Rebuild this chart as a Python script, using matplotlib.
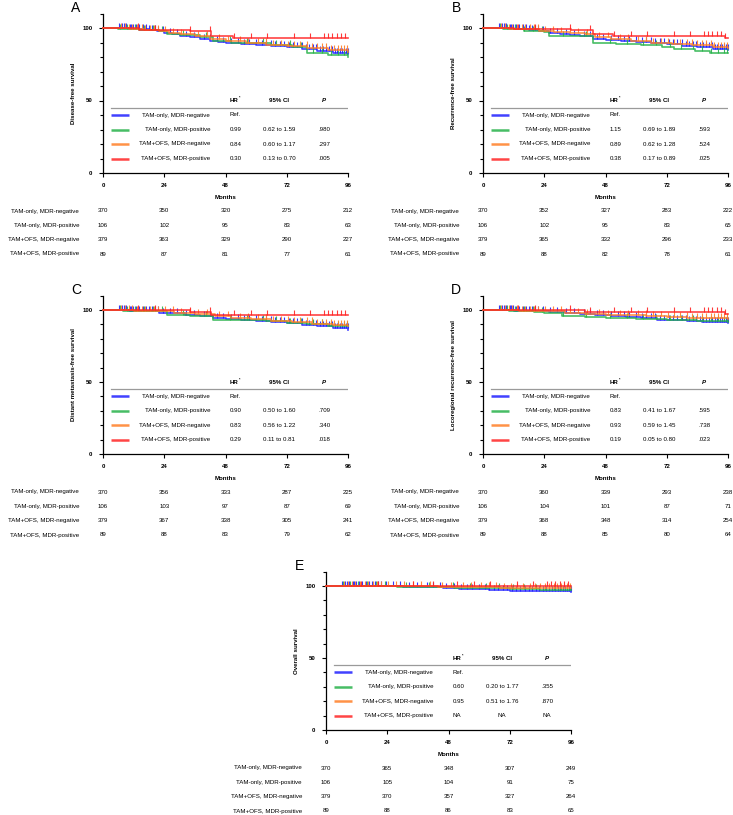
import numpy as np
import matplotlib
matplotlib.use("Agg")
import matplotlib.pyplot as plt

plt.rcParams['font.family'] = ['Liberation Sans', 'DejaVu Sans']

DPI = 100
W, H = 733, 815

# ---------------- data ----------------
groups = ["TAM-only, MDR-negative", "TAM-only, MDR-positive",
          "TAM+OFS, MDR-negative", "TAM+OFS, MDR-positive"]
colors = ["#1f1fff", "#27b24a", "#ff7f27", "#ff2424"]
month_ticks = [0, 24, 48, 72, 96]

# censor (follow-up) times per group
cens_blue = [6.2, 7.5, 8.3, 9.1, 10.4, 11.1, 11.8, 13.0, 14.3, 15.6, 16.9, 18.0, 19.2, 20.5,
             21.7, 23.4, 26.1, 29.0, 32.5, 35.8, 39.7, 41.9, 44.6, 47.2, 50.3, 52.8, 55.1,
             57.4, 59.9, 62.2, 64.0, 65.8, 67.5, 69.3, 71.0, 72.8, 74.5, 76.1, 77.9, 79.4,
             80.8, 82.3, 83.6, 84.9, 86.2, 87.4, 88.6, 89.7, 90.8, 91.8, 92.7, 93.6, 94.4,
             95.2, 95.9]
cens_green = [6.8, 9.5, 12.7, 16.2, 19.5, 23.0, 31.5, 40.2, 49.8, 56.3, 62.5, 67.9, 73.1,
              77.6, 82.4, 86.0, 89.4, 92.0, 94.3, 95.8]
cens_orange = [7.0, 8.6, 10.1, 11.5, 13.4, 15.2, 16.6, 18.3, 19.9, 21.5, 24.2, 27.3, 30.6,
               33.9, 37.4, 40.8, 45.3, 49.1, 53.6, 57.0, 60.8, 63.9, 66.7, 69.6, 72.4, 75.0,
               77.3, 79.8, 81.9, 83.8, 85.7, 87.5, 89.2, 90.7, 92.1, 93.4, 94.6, 95.7]
cens_red = [13.8, 20.4, 34.0, 42.0, 51.5, 58.0, 64.2, 75.0, 81.0, 86.6, 88.3, 89.9, 91.8,
            93.2, 95.0]

# Panel A: Disease-free survival
A_blue_t = [0, 10, 14, 18, 21, 24, 27, 30, 34, 38, 42, 45, 48, 54, 60, 66, 72, 78, 84, 90, 96]
A_blue_s = [100, 99.6, 99.1, 98.4, 97.6, 96.6, 95.6, 94.6, 93.6, 92.6, 91.3, 90.6, 89.8, 89.0,
            88.2, 87.4, 86.6, 85.4, 84.2, 83.0, 81.8]
A_green_t = [0, 6, 14, 22, 25, 30, 38, 43, 50, 58, 66, 74, 80, 88, 96]
A_green_s = [100, 99.0, 98.5, 97.6, 95.6, 95.0, 94.0, 91.0, 90.0, 89.4, 88.6, 86.8, 82.5, 81.2, 80.2]
A_orange_t = [0, 10, 16, 22, 26, 30, 36, 42, 48, 56, 64, 72, 80, 88, 96]
A_orange_s = [100, 99.5, 98.9, 97.8, 96.8, 96.0, 94.8, 92.6, 90.8, 89.5, 88.4, 87.4, 86.2, 84.6, 83.5]
A_red_t = [0, 14, 34, 42.5, 51, 96]
A_red_s = [100, 98.9, 97.8, 94.4, 93.3, 93.3]
A_risk = [[370, 350, 320, 275, 212], [106, 102, 95, 83, 63],
          [379, 363, 329, 290, 227], [89, 87, 81, 77, 61]]
A_hr = ["Ref.", "0.99", "0.84", "0.30"]
A_ci = ["", "0.62 to 1.59", "0.60 to 1.17", "0.13 to 0.70"]
A_p = ["", ".980", ".297", ".005"]

# Panel B: Recurrence-free survival
B_blue_t = [0, 10, 14, 18, 22, 26, 30, 34, 38, 43, 48, 54, 60, 66, 72, 78, 84, 90, 96]
B_blue_s = [100, 99.6, 99.2, 98.6, 97.8, 96.8, 96.0, 95.2, 94.5, 92.6, 91.8, 91.0, 90.3, 89.6,
            88.8, 87.8, 86.6, 85.6, 84.6]
B_green_t = [0, 8, 16, 24, 26, 43, 52, 62, 70, 75, 83, 89, 96]
B_green_s = [100, 99.0, 98.2, 97.4, 94.6, 90.0, 89.3, 88.3, 87.2, 85.4, 83.8, 82.6, 82.6]
B_orange_t = [0, 10, 16, 22, 28, 34, 40, 44, 50, 58, 66, 74, 82, 90, 96]
B_orange_s = [100, 99.5, 99.0, 98.2, 97.4, 96.8, 96.0, 93.8, 92.4, 91.2, 90.0, 89.0, 88.0, 87.0, 86.2]
B_red_t = [0, 12, 34.5, 43, 51, 95, 96]
B_red_s = [100, 99.2, 98.4, 95.6, 94.2, 93.4, 93.4]
B_risk = [[370, 352, 327, 283, 222], [106, 102, 95, 83, 65],
          [379, 365, 332, 296, 233], [89, 88, 82, 78, 61]]
B_hr = ["Ref.", "1.15", "0.89", "0.38"]
B_ci = ["", "0.69 to 1.89", "0.62 to 1.28", "0.17 to 0.89"]
B_p = ["", ".593", ".524", ".025"]

# Panel C: Distant metastasis-free survival
C_blue_t = [0, 10, 16, 22, 26, 32, 38, 43, 48, 54, 60, 66, 72, 78, 84, 90, 96]
C_blue_s = [100, 99.6, 99.0, 98.2, 97.6, 96.8, 96.0, 94.4, 93.8, 93.0, 92.2, 91.6, 90.8, 89.8,
            88.8, 87.6, 86.2]
C_green_t = [0, 8, 16, 25, 34, 43, 56, 64, 72, 80, 88, 96]
C_green_s = [100, 99.3, 99.0, 96.6, 96.0, 92.9, 92.9, 92.2, 91.0, 90.0, 89.2, 88.6]
C_orange_t = [0, 12, 20, 28, 36, 44, 50, 58, 66, 74, 82, 90, 96]
C_orange_s = [100, 99.6, 99.0, 98.2, 97.2, 95.6, 94.6, 93.6, 92.6, 91.6, 90.6, 89.6, 88.8]
C_red_t = [0, 34, 42.5, 96]
C_red_s = [100, 98.9, 96.3, 96.3]
C_risk = [[370, 356, 333, 287, 225], [106, 103, 97, 87, 69],
          [379, 367, 338, 305, 241], [89, 88, 83, 79, 62]]
C_hr = ["Ref.", "0.90", "0.83", "0.29"]
C_ci = ["", "0.50 to 1.60", "0.56 to 1.22", "0.11 to 0.81"]
C_p = ["", ".709", ".340", ".018"]

# Panel D: Locoregional recurrence-free survival
D_blue_t = [0, 12, 20, 26, 32, 38, 44, 50, 56, 62, 68, 74, 80, 86, 92, 96]
D_blue_s = [100, 99.6, 99.0, 98.4, 97.8, 97.2, 96.6, 95.8, 95.0, 94.2, 93.4, 92.8, 92.2, 91.8,
            91.5, 91.2]
D_green_t = [0, 10, 20, 24, 31, 40, 48, 60, 72, 84, 96]
D_green_s = [100, 99.4, 98.8, 98.2, 95.9, 95.2, 94.6, 93.8, 93.1, 92.4, 92.0]
D_orange_t = [0, 14, 24, 32, 40, 48, 56, 64, 72, 80, 88, 96]
D_orange_s = [100, 99.6, 99.0, 98.2, 97.4, 96.8, 96.2, 95.6, 95.0, 94.6, 94.3, 94.0]
D_red_t = [0, 40, 95, 96]
D_red_s = [100, 98.9, 97.4, 97.4]
D_risk = [[370, 360, 339, 293, 238], [106, 104, 101, 87, 71],
          [379, 368, 348, 314, 254], [89, 88, 85, 80, 64]]
D_hr = ["Ref.", "0.83", "0.93", "0.19"]
D_ci = ["", "0.41 to 1.67", "0.59 to 1.45", "0.05 to 0.80"]
D_p = ["", ".595", ".738", ".023"]

# Panel E: Overall survival
E_blue_t = [0, 20, 30, 40, 46, 52, 58, 64, 72, 80, 88, 96]
E_blue_s = [100, 99.8, 99.5, 99.0, 98.5, 98.0, 97.6, 97.0, 96.6, 96.4, 96.2, 96.0]
E_green_t = [0, 28, 50, 60, 72, 84, 96]
E_green_s = [100, 99.1, 98.9, 98.3, 97.8, 97.4, 97.2]
E_orange_t = [0, 30, 44, 56, 68, 80, 96]
E_orange_s = [100, 99.7, 99.4, 99.0, 98.7, 98.5, 98.3]
E_red_t = [0, 96]
E_red_s = [100, 100]
E_risk = [[370, 365, 348, 307, 249], [106, 105, 104, 91, 75],
          [379, 370, 357, 327, 264], [89, 88, 86, 83, 65]]
E_hr = ["Ref.", "0.60", "0.95", "NA"]
E_ci = ["", "0.20 to 1.77", "0.51 to 1.76", "NA"]
E_p = ["", ".355", ".870", "NA"]

# ---------------- drawing ----------------
FS = 4.4
PT = 72.0 / DPI  # points per pixel

fig = plt.figure(figsize=(W / DPI, H / DPI), dpi=DPI)


def make_ax(x0, x1, ytop, ybot):
    return fig.add_axes([x0 / W, 1 - ybot / H, (x1 - x0) / W, (ybot - ytop) / H])


def step_value(t, s, x):
    idx = np.searchsorted(np.asarray(t), x, side='right') - 1
    return np.asarray(s)[np.clip(idx, 0, len(s) - 1)]


def panel(ax, letter, ylabel, curves, risk, hr, ci, pv):
    ax.set_xlim(0, 96)
    ax.set_ylim(0, 110)
    for sp in ['top', 'right']:
        ax.spines[sp].set_visible(False)
    for sp in ['left', 'bottom']:
        ax.spines[sp].set_linewidth(0.9)
    ax.set_xticks(month_ticks)
    ax.set_xticklabels([str(m) for m in month_ticks], fontweight='bold', fontsize=FS)
    ax.set_yticks([0, 50, 100])
    ax.set_yticklabels(["0", "50", "100"], fontweight='bold', fontsize=FS)
    ax.set_yticks([10, 20, 30, 40, 60, 70, 80, 90, 110], minor=True)
    ax.tick_params(axis='both', which='major', length=4 * PT, width=0.8, pad=4.6, direction='out')
    ax.tick_params(axis='y', which='minor', length=3 * PT, width=0.8, direction='out')

    order = [1, 2, 0, 3]
    cens = [cens_blue, cens_green, cens_orange, cens_red]
    for i in order:
        t, s = curves[i]
        ax.step(t, s, where='post', color=colors[i], lw=1.2, alpha=0.85, zorder=3 + i * 0.1,
                clip_on=False)
        ct = np.array(cens[i])
        cy = step_value(t, s, ct)
        ax.plot(ct, cy, ls='none', marker=2, ms=3.6, mew=0.8, color=colors[i], alpha=0.9,
                zorder=3 + i * 0.1, clip_on=False)

    # in-plot table
    ax.text(49.5, 50, "HR", fontsize=FS, fontweight='bold', ha='left', va='center')
    ax.text(53.2, 51.8, "*", fontsize=FS * 0.6, fontweight='bold', ha='left', va='center')
    ax.text(69.0, 50, "95% CI", fontsize=FS, fontweight='bold', ha='center', va='center')
    ax.text(86.6, 50, "P", fontsize=FS, fontweight='bold', fontstyle='italic', ha='center', va='center')
    ax.plot([3.0, 96], [44.8, 44.8], color='#9a9a9a', lw=0.9)
    rows_y = [40, 30, 20, 10]
    for i in range(4):
        y = rows_y[i]
        ax.plot([3.0, 10.0], [y, y], color=colors[i], lw=1.8, alpha=0.85, solid_capstyle='butt')
        ax.text(42.0, y, groups[i], fontsize=FS, ha='right', va='center')
        ax.text(49.5, y, hr[i], fontsize=FS, ha='left', va='center')
        ax.text(69.0, y, ci[i], fontsize=FS, ha='center', va='center')
        ax.text(86.6, y, pv[i], fontsize=FS, ha='center', va='center')

    # labels
    ax.annotate(letter, xy=(0, 1), xycoords='axes fraction', xytext=(-27 * PT, 6 * PT),
                textcoords='offset points', fontsize=10, ha='center', va='center')
    ax.annotate(ylabel, xy=(0, 0.5), xycoords='axes fraction', xytext=(-29.5 * PT, 0),
                textcoords='offset points', fontsize=FS, fontweight='bold', rotation=90,
                ha='center', va='center')
    ax.annotate("Months", xy=(0.5, 0), xycoords='axes fraction', xytext=(0, -24.5 * PT),
                textcoords='offset points', fontsize=FS, fontweight='bold', ha='center', va='center')
    # risk table
    offs = [38, 52.5, 66.5, 81]
    for r in range(4):
        ax.annotate(groups[r], xy=(0, 0), xycoords='axes fraction', xytext=(-24 * PT, -offs[r] * PT),
                    textcoords='offset points', fontsize=FS, ha='right', va='center',
                    annotation_clip=False)
        for j, m in enumerate(month_ticks):
            ax.annotate(str(risk[r][j]), xy=(m, 0), xycoords=('data', 'axes fraction'),
                        xytext=(0, -offs[r] * PT), textcoords='offset points', fontsize=FS,
                        ha='center', va='center', annotation_clip=False)


axA = make_ax(103, 348, 13.5, 173)
axB = make_ax(483, 728, 13.5, 173)
axC = make_ax(103, 348, 295.6, 454)
axD = make_ax(483, 728, 295.6, 454)
axE = make_ax(326, 571, 571.6, 730)

panel(axA, "A", "Disease-free survival",
      [(A_blue_t, A_blue_s), (A_green_t, A_green_s), (A_orange_t, A_orange_s), (A_red_t, A_red_s)],
      A_risk, A_hr, A_ci, A_p)
panel(axB, "B", "Recurrence-free survival",
      [(B_blue_t, B_blue_s), (B_green_t, B_green_s), (B_orange_t, B_orange_s), (B_red_t, B_red_s)],
      B_risk, B_hr, B_ci, B_p)
panel(axC, "C", "Distant metastasis-free survival",
      [(C_blue_t, C_blue_s), (C_green_t, C_green_s), (C_orange_t, C_orange_s), (C_red_t, C_red_s)],
      C_risk, C_hr, C_ci, C_p)
panel(axD, "D", "Locoregional recurrence-free survival",
      [(D_blue_t, D_blue_s), (D_green_t, D_green_s), (D_orange_t, D_orange_s), (D_red_t, D_red_s)],
      D_risk, D_hr, D_ci, D_p)
panel(axE, "E", "Overall survival",
      [(E_blue_t, E_blue_s), (E_green_t, E_green_s), (E_orange_t, E_orange_s), (E_red_t, E_red_s)],
      E_risk, E_hr, E_ci, E_p)

fig.savefig("out.png", dpi=DPI)
